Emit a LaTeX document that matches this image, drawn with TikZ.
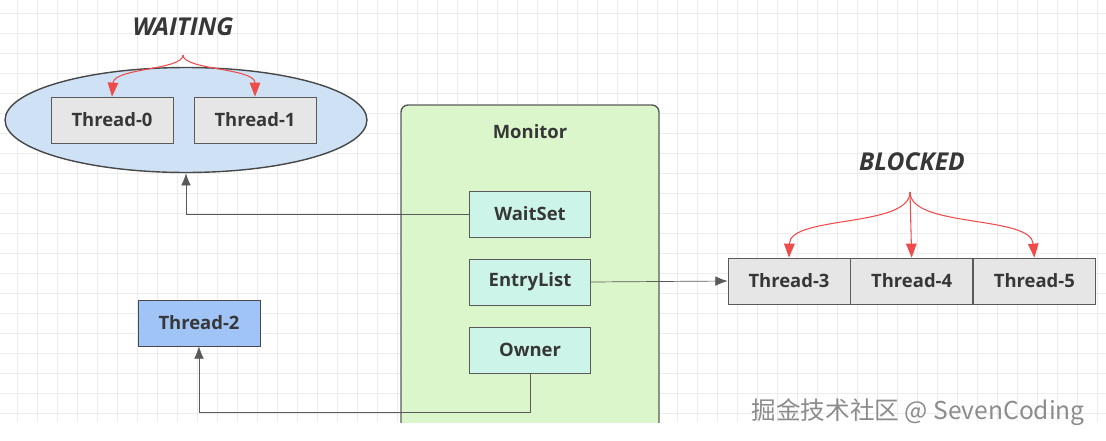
\documentclass[tikz,border=0pt]{standalone}
\usepackage{fontspec}
\setmainfont{Open Sans}
\newfontfamily\cjkfont{Noto Sans CJK SC}
\usetikzlibrary{positioning,arrows.meta,shapes.geometric}

\definecolor{gridgray}{RGB}{236,236,236}
\definecolor{waitblue}{RGB}{207,225,245}
\definecolor{threadgray}{RGB}{230,230,230}
\definecolor{monitorgreen}{RGB}{220,246,204}
\definecolor{slotcyan}{RGB}{204,244,232}
\definecolor{ownerblue}{RGB}{160,196,246}
\definecolor{edgegray}{RGB}{90,90,90}
\definecolor{forkred}{RGB}{240,75,75}
\definecolor{inkgray}{RGB}{55,55,55}

\begin{document}
\begin{tikzpicture}[x=0.02cm,y=-0.02cm]
   \tikzstyle{thread}=[draw=edgegray, fill=threadgray, text=inkgray, font=\fontsize{10.5}{12}\selectfont\bfseries, minimum width=2.44cm, minimum height=0.92cm, inner sep=0pt]
   \tikzstyle{slot}=[thread, fill=slotcyan, minimum width=2.42cm]
   \tikzstyle{state}=[text=inkgray, font=\fontsize{14}{16}\selectfont\bfseries\itshape]
   \tikzstyle{link}=[draw=edgegray, thin, -{Latex[length=7pt,width=5.5pt]}]
   \tikzstyle{fork}=[draw=forkred, semithick, -{Triangle[length=8pt,width=6pt]}]

\useasboundingbox (0,0) rectangle (1106,440);
% grid
\foreach \gx in {17,37,...,1105} \draw[gridgray, very thin] (\gx,0) -- (\gx,422);
\foreach \gy in {13,33,...,421} \draw[gridgray, very thin] (0,\gy) -- (1106,\gy);

% waiting set
\node[state] (waitlabel) at (183,27) {WAITING};
\node[ellipse, draw=edgegray!80!black, fill=waitblue, thick, minimum width=7.24cm, minimum height=2.1cm] (waiting) at (186,120) {};
\node[thread] (t0) at (112,120) {Thread-0};
\node[thread] (t1) at (255,120) {Thread-1};
\coordinate (waitfork) at (183,55);
\draw[fork] (waitfork) .. controls (183,70) and (114,68) .. (t0.north);
\draw[fork] (waitfork) .. controls (183,70) and (255,68) .. (t1.north);

% monitor
\begin{scope}
\clip (0,0) rectangle (1106,422);
\draw[edgegray, fill=monitorgreen, thick, rounded corners=4pt] (401,105) rectangle (659,440);
\end{scope}
\node[text=inkgray, font=\fontsize{10.5}{12}\selectfont\bfseries] (monitor) at (530,132) {Monitor};
\node[slot] (waitset) at (530,214) {WaitSet};
\node[slot] (entrylist) at (530,282) {EntryList};
\node[slot] (owner) at (530,350) {Owner};

% blocked queue
\node[state] (blocklabel) at (912,162) {BLOCKED};
\node[thread] (t3) at (789,281) {Thread-3};
\node[thread, right=0pt of t3] (t4) {Thread-4};
\node[thread, right=0pt of t4] (t5) {Thread-5};
\coordinate (blockfork) at (910,192);
\draw[fork] (blockfork) .. controls (910,228) and (790,215) .. (t3.north);
\draw[fork] (blockfork) -- (t4.north);
\draw[fork] (blockfork) .. controls (910,228) and (1031,215) .. (t5.north);

% owner thread
\node[thread, fill=ownerblue, draw=edgegray!80!black] (t2) at (199,323) {Thread-2};

% connectors
\draw[link] (waitset.west) -| (waiting.south);
\draw[link] (entrylist.east) -- (t3.west);
\coordinate (ownerbend) at (530,412);
\draw[link] (owner.south) -- (ownerbend) -| (t2.south);

\node[anchor=base east, text=black!45, font=\cjkfont\fontsize{14}{16}\selectfont] (mark) at (1091,419) {掘金技术社区 @ SevenCoding};
\end{tikzpicture}
\end{document}
